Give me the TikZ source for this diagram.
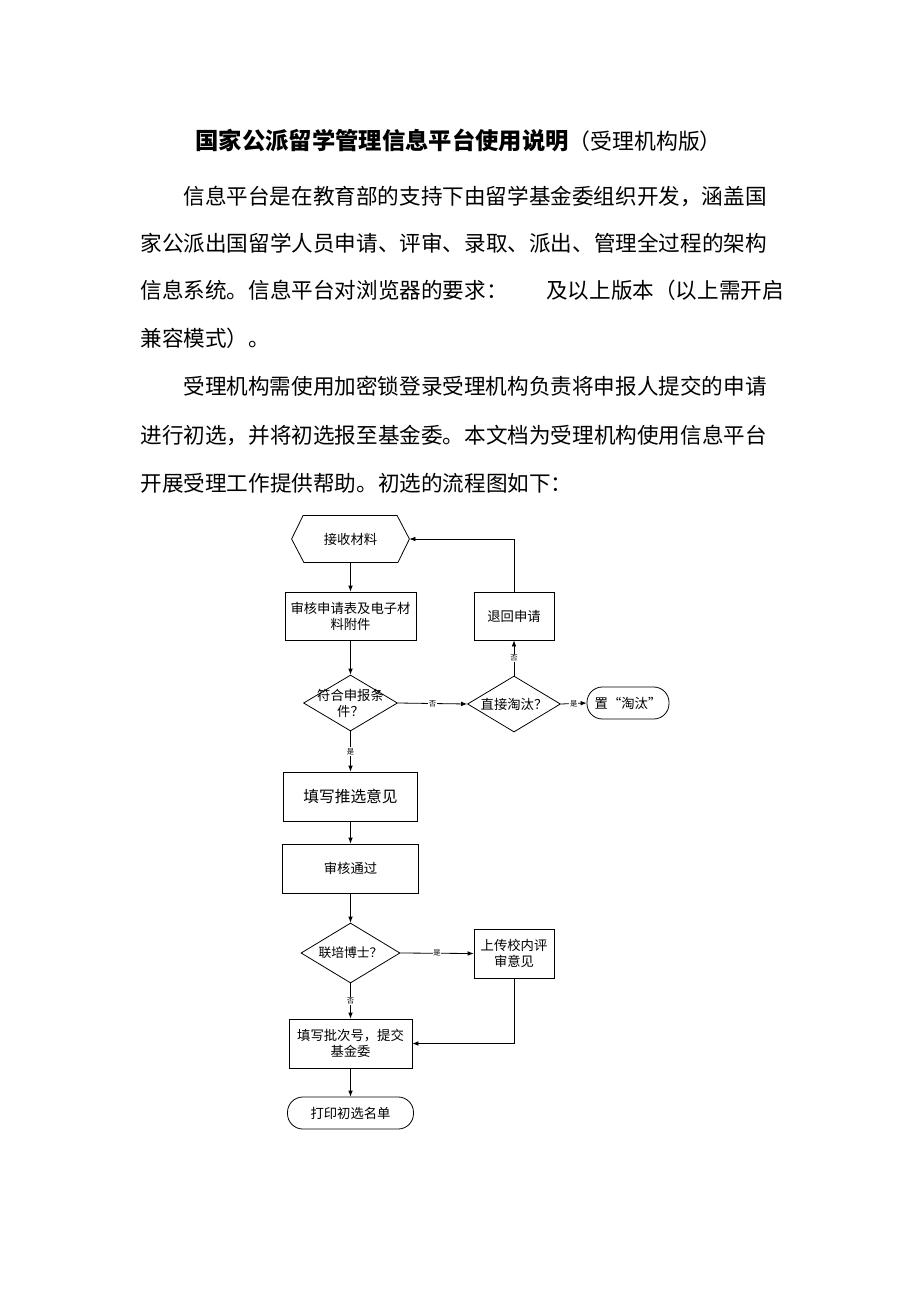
\documentclass[tikz,border=0pt]{standalone}
\usepackage{fontspec}
\setmainfont{Noto Sans CJK SC}
\usetikzlibrary{shapes.geometric,arrows.meta}
\newcommand\flfont{\fontsize{10pt}{12pt}\selectfont}
\newcommand\parafont{\fontsize{16.2pt}{18pt}\selectfont}
\begin{document}
\begin{tikzpicture}[x=0.75pt,y=-0.75pt,
  line width=0.6pt,
  para/.style={anchor=west,inner sep=0pt,font=\parafont},
  proc/.style={draw,inner sep=0pt,align=center,font=\flfont},
  term/.style={draw,inner sep=0pt,align=center,font=\flfont,rounded corners=11.5pt},
  dec/.style={draw,diamond,inner sep=0pt},
  dtext/.style={align=center,font=\flfont,inner sep=0pt},
  arr/.style={-{Latex[length=4.5pt,width=3.5pt]}},
  lbl/.style={font=\fontsize{5.5pt}{6pt}\selectfont,fill=white,inner sep=0.6pt}]
\useasboundingbox[fill=white] (0,0) rectangle (920,1302);

% title
\node[anchor=west,inner sep=0pt] (title) at (195,140)
  {{\fontsize{17.5pt}{20pt}\selectfont\bfseries 国家公派留学管理信息平台使用说明}{\fontsize{16.4pt}{20pt}\selectfont （受理机构版）}};

% paragraphs
\node[para] (p1a) at (183,196) {信息平台是在教育部的支持下由留学基金委组织开发，涵盖国};
\node[para] (p1b) at (140,243) {家公派出国留学人员申请、评审、录取、派出、管理全过程的架构};
\node[para] (p1c) at (140,290) {信息系统。信息平台对浏览器的要求：\hspace{29pt}及以上版本（以上需开启};
\node[para] (p1d) at (140,338) {兼容模式）。};
\node[para] (p2a) at (183,386) {受理机构需使用加密锁登录受理机构负责将申报人提交的申请};
\node[para] (p2b) at (140,435) {进行初选，并将初选报至基金委。本文档为受理机构使用信息平台};
\node[para] (p2c) at (140,483) {开展受理工作提供帮助。初选的流程图如下：};

% flowchart nodes
\node[inner sep=0pt,minimum width=87.75pt,minimum height=35.25pt,font=\flfont] (recv) at (350.5,539) {接收材料};
\draw (recv.west) -- ++(11.5,-23.5) -- ++(94,0) -- (recv.east) -- ++(-11.5,23.5) -- ++(-94,0) -- cycle;

\node[proc,minimum width=98.25pt,minimum height=36pt] (check) at (350.5,616) {审核申请表及电子材\\料附件};
\node[proc,minimum width=60pt,minimum height=36pt] (ret) at (514,616) {退回申请};

\node[dec,minimum width=70.5pt,minimum height=42pt,label={[dtext]center:符合申报条\\件？}] (d1) at (350.5,703) {};
\node[dec,minimum width=69.75pt,minimum height=42pt,label={[dtext]center:直接淘汰？}] (d2) at (514,704) {};
\node[term,minimum width=61.5pt,minimum height=24pt] (elim) at (628,703) {置“淘汰”};

\node[proc,minimum width=100.5pt,minimum height=36.75pt,font=\fontsize{11.8pt}{14pt}\selectfont] (rec) at (350.5,796.5) {填写推选意见};
\node[proc,minimum width=102pt,minimum height=36.75pt] (pass) at (350.5,868.5) {审核通过};

\node[dec,minimum width=74.25pt,minimum height=45pt,label={[dtext,font=\fontsize{9.6pt}{12pt}\selectfont]center:联培博士？}] (d3) at (350.5,953) {};
\node[proc,minimum width=60pt,minimum height=36.75pt] (upl) at (514,953.5) {上传校内评\\审意见};

\node[proc,minimum width=92.25pt,minimum height=36.75pt] (sub) at (350.5,1043.5) {填写批次号，提交\\基金委};
\node[term,minimum width=94.5pt,minimum height=24pt] (print) at (350.5,1113) {打印初选名单};

% connectors
\draw[arr] (recv.south) -- (check.north);
\draw[arr] (check.south) -- (d1.north);
\draw[arr] (d1.east) -- node[lbl]{否} (d2.west);
\draw[arr] (d2.east) -- node[lbl]{是} (elim.west);
\draw[arr] (d2.north) -- node[lbl]{否} (ret.south);
\draw[arr] (ret.north) |- (recv.east);
\draw[arr] (d1.south) -- node[lbl]{是} (rec.north);
\draw[arr] (rec.south) -- (pass.north);
\draw[arr] (pass.south) -- (d3.north);
\draw[arr] (d3.east) -- node[lbl]{是} (upl.west);
\draw[arr] (d3.south) -- node[lbl]{否} (sub.north);
\draw[arr] (upl.south) |- (sub.east);
\draw[arr] (sub.south) -- (print.north);
\end{tikzpicture}
\end{document}
